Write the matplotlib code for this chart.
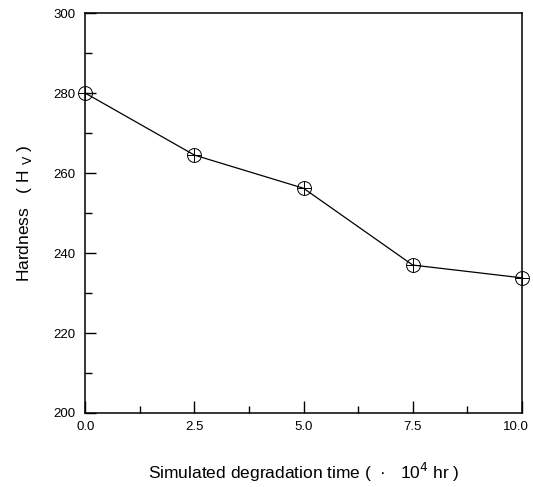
import matplotlib
matplotlib.use("Agg")
import matplotlib.pyplot as plt
import matplotlib.transforms as mtransforms
from matplotlib.ticker import MultipleLocator

plt.rcParams["font.family"] = ["Liberation Sans", "DejaVu Sans"]

# degradation time (x 10^4 hr) vs hardness (Hv)
time = [0.0, 2.5, 5.0, 7.5, 10.0]
hardness = [280, 264.5, 256.2, 237, 233.8]
xtick_vals = [0.0, 2.5, 5.0, 7.5, 10.0]
xtick_lbls = ["0.0", "2.5", "5.0", "7.5", "10.0"]
ytick_vals = [200, 220, 240, 260, 280, 300]

fig = plt.figure(figsize=(5.33, 4.87), dpi=100)
ax = fig.add_axes([0.16, 0.152, 0.819, 0.821])

ax.plot(time, hardness, color="k", lw=0.9, zorder=2)
ax.plot(time, hardness, ls="none", marker="o", ms=10, mfc="none",
        mec="k", mew=0.7, clip_on=False, zorder=3)
ax.plot(time, hardness, ls="none", marker="+", ms=10, mec="k", mew=0.7,
        clip_on=False, zorder=3)

ax.set_xlim(0, 10)
ax.set_ylim(200, 300)
ax.set_xticks(xtick_vals)
ax.set_xticklabels(xtick_lbls)
ax.set_yticks(ytick_vals)
ax.xaxis.set_minor_locator(MultipleLocator(1.25))
ax.yaxis.set_minor_locator(MultipleLocator(10))
ax.tick_params(which="both", direction="in", top=False, right=False,
               labelsize=9.5, width=1.0)
ax.tick_params(axis="x", which="major", length=9, pad=6)
ax.tick_params(axis="x", which="minor", length=5)
ax.tick_params(axis="y", which="major", length=8, pad=7)
ax.tick_params(axis="y", which="minor", length=5)
for s in ax.spines.values():
    s.set_linewidth(1.1)

# last label sits a little left of its tick so it stays inside the figure
last = ax.get_xticklabels()[-1]
last.set_transform(last.get_transform() +
                   mtransforms.ScaledTranslation(-4 / 72, 0, fig.dpi_scale_trans))

ax.set_xlabel("Simulated degradation time (  \u00b7   10$^4$ hr )", fontsize=12.5,
              labelpad=20)
ax.set_ylabel("Hardness   ( H $_{\\rm V}$ )", fontsize=12.5, labelpad=14)

fig.savefig("out.png", dpi=100)
